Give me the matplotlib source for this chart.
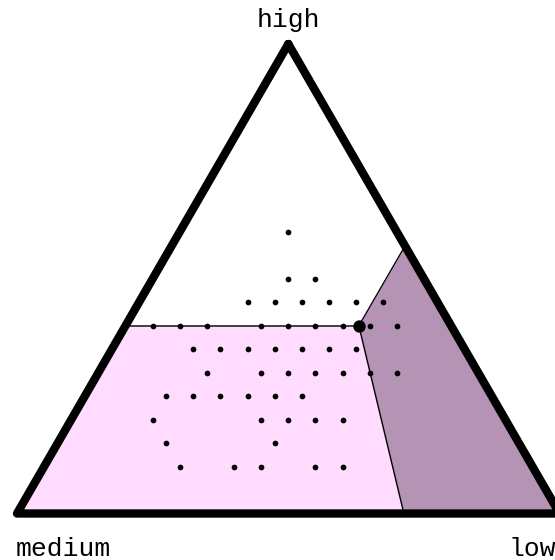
import matplotlib
matplotlib.use("Agg")
import matplotlib.pyplot as plt
from matplotlib.patches import Polygon

# ternary data: each row has one "high" share and a list of "low" shares
# (medium = 1 - high - low)
high_rows = [0.60, 0.50, 0.45, 0.40, 0.35, 0.30, 0.25, 0.20, 0.15, 0.10]
low_rows = [
    [0.20],
    [0.25, 0.30],
    [0.20, 0.25, 0.30, 0.35, 0.40, 0.45],
    [0.05, 0.10, 0.15, 0.25, 0.30, 0.35, 0.40, 0.45, 0.50],
    [0.15, 0.20, 0.25, 0.30, 0.35, 0.40, 0.45],
    [0.20, 0.30, 0.35, 0.40, 0.45, 0.50, 0.55],
    [0.15, 0.20, 0.25, 0.30, 0.35, 0.40],
    [0.15, 0.35, 0.40, 0.45, 0.50],
    [0.20, 0.40],
    [0.25, 0.35, 0.40, 0.50, 0.55],
]

# highlighted point and region corners as (low, high)
focus_point = (0.43, 0.40)
pink_region = [(0.0, 0.40), (0.43, 0.40), (0.713, 0.0), (0.0, 0.0)]
mauve_region = [(0.43, 0.40), (0.43, 0.57), (1.0, 0.0), (0.713, 0.0)]
corner_labels = ["high", "medium", "low"]

# triangle geometry in pixel space
LEFT = (17.0, 513.5)
SIDE = 542.6
HEIGHT = 469.5


def tern(low, high):
    x = LEFT[0] + (low + high / 2) * SIDE
    y = LEFT[1] - high * HEIGHT
    return x, y


fig = plt.figure(figsize=(5.55, 5.6), dpi=100)
ax = fig.add_axes([0, 0, 1, 1])
ax.set_xlim(0, 555)
ax.set_ylim(560, 0)
ax.axis("off")

ax.add_patch(Polygon([tern(*p) for p in pink_region], closed=True,
                     facecolor="#ffdcff", edgecolor="none", zorder=1))
ax.add_patch(Polygon([tern(*p) for p in mauve_region], closed=True,
                     facecolor="#b593b5", edgecolor="none", zorder=1))

# region borders
fx, fy = tern(*focus_point)
x0, y0 = tern(*pink_region[0])
ax.plot([x0, fx], [y0, fy], color="#333333", lw=1.3, zorder=2)
bx, by = tern(*pink_region[2])
ax.plot([fx, bx], [fy, by], color="black", lw=1.0, zorder=2)
rx, ry = tern(*mauve_region[1])
ax.plot([fx, rx], [fy, ry], color="black", lw=0.9, zorder=2)

# triangle outline
tri = [tern(0, 1), tern(0, 0), tern(1, 0), tern(0, 1)]
ax.plot([p[0] for p in tri], [p[1] for p in tri], color="black", lw=6,
        solid_joinstyle="round", solid_capstyle="round", zorder=3)

# grid points
xs, ys = [], []
for high, lows in zip(high_rows, low_rows):
    for low in lows:
        x, y = tern(low, high)
        xs.append(x)
        ys.append(y)
ax.scatter(xs, ys, s=17, color="black", linewidths=0, zorder=4)
ax.scatter([fx], [fy], s=80, color="black", linewidths=0, zorder=5)

font = dict(family=["Liberation Mono", "DejaVu Sans Mono"], fontsize=19)
tx, ty = tern(0, 1)
ax.text(tx, 27, corner_labels[0], ha="center", va="baseline", **font)
ax.text(16, 556, corner_labels[1], ha="left", va="baseline", **font)
ax.text(508, 556, corner_labels[2], ha="left", va="baseline", **font)

fig.savefig("out.png", dpi=100)
